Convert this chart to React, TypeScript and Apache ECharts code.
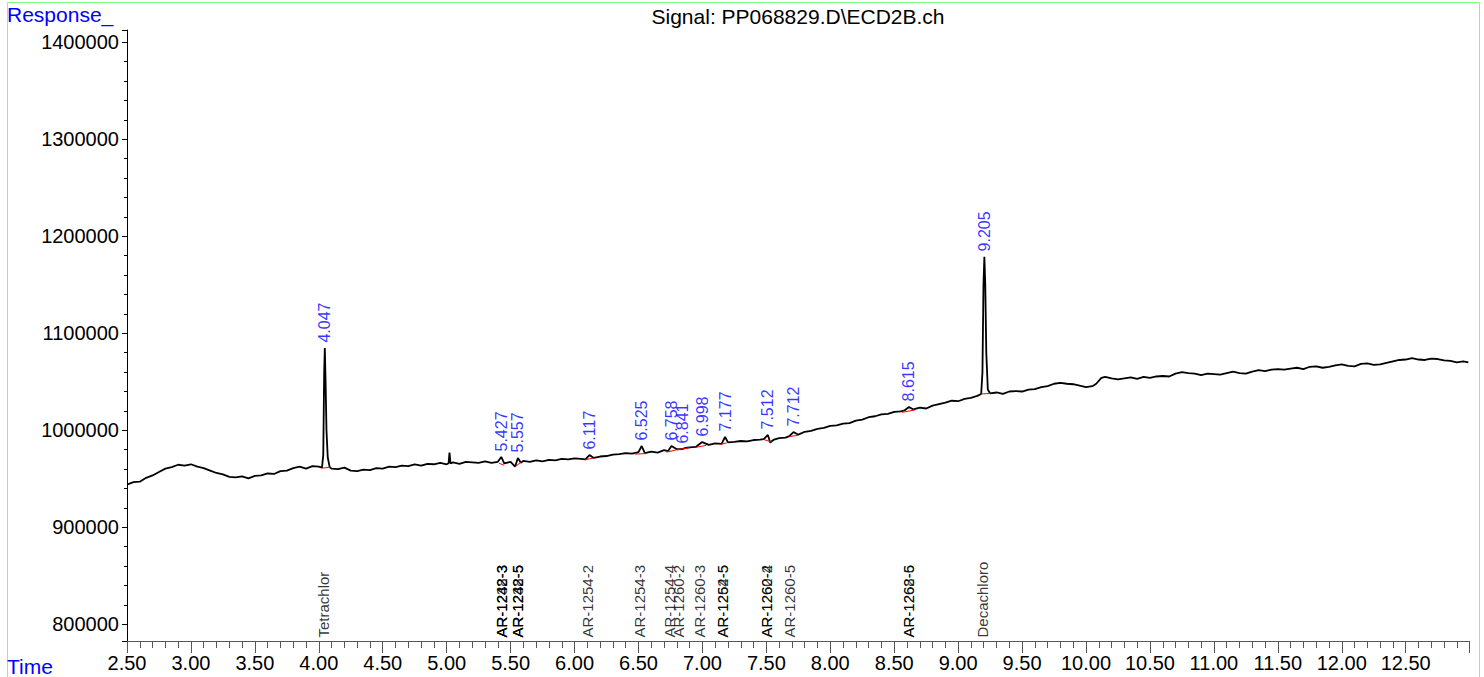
import React, { useEffect, useRef } from 'react';
import * as echarts from 'echarts';

const FONT = '"Liberation Sans", Arial, Helvetica, sans-serif';

// Chromatogram trace: [retention time (min), response]
const trace: [number, number][] = [
  [2.50, 944000], [2.55, 946500], [2.60, 947000], [2.65, 951000], [2.70, 953500],
  [2.75, 957000], [2.80, 960500], [2.85, 962000], [2.90, 964500], [2.95, 963500],
  [3.00, 965000], [3.05, 962500], [3.10, 961000], [3.15, 958500], [3.20, 956000],
  [3.25, 954500], [3.30, 952000], [3.35, 951500], [3.40, 952500], [3.45, 950500],
  [3.50, 953000], [3.55, 953500], [3.60, 955500], [3.65, 955000], [3.70, 958000],
  [3.75, 958500], [3.80, 961000], [3.85, 962500], [3.90, 960500], [3.95, 963000],
  [4.00, 962500], [4.025, 961500], [4.035, 975000], [4.042, 1060000], [4.047, 1084800],
  [4.053, 1050000], [4.060, 1000000], [4.070, 972000], [4.085, 962000], [4.10, 960500],
  [4.15, 960000], [4.20, 961500], [4.25, 958500], [4.30, 958000], [4.35, 959500],
  [4.40, 959000], [4.45, 961000], [4.50, 960500], [4.55, 962500], [4.60, 962000],
  [4.65, 963500], [4.70, 963000], [4.75, 965000], [4.80, 963500], [4.85, 965500],
  [4.90, 965000], [4.95, 966500], [5.00, 965000], [5.015, 966000], [5.022, 977000],
  [5.03, 966000], [5.05, 967000], [5.10, 965500], [5.15, 967500], [5.20, 967000],
  [5.25, 966500], [5.30, 968000], [5.35, 966500], [5.40, 967500], [5.427, 972500],
  [5.45, 966000], [5.50, 967500], [5.535, 962500], [5.557, 971500], [5.58, 966500],
  [5.60, 968500], [5.65, 967500], [5.70, 969000], [5.75, 968000], [5.80, 969500],
  [5.85, 969000], [5.90, 970500], [5.95, 970000], [6.00, 971000], [6.05, 970500],
  [6.085, 970000], [6.117, 974500], [6.15, 971500], [6.20, 973000], [6.25, 973500],
  [6.30, 975000], [6.35, 975500], [6.40, 976500], [6.45, 976000], [6.50, 977500],
  [6.525, 983800], [6.55, 976500], [6.60, 978000], [6.65, 977000], [6.70, 979500],
  [6.73, 978500], [6.758, 983800], [6.80, 980500], [6.841, 980700], [6.87, 982000],
  [6.90, 982500], [6.95, 983000], [6.998, 987900], [7.05, 985000], [7.10, 986500],
  [7.15, 986000], [7.177, 993100], [7.20, 987500], [7.25, 988000], [7.30, 989000],
  [7.35, 988500], [7.40, 990000], [7.45, 990500], [7.48, 991000], [7.512, 995200],
  [7.53, 987500], [7.56, 990500], [7.60, 992000], [7.65, 992500], [7.68, 994000],
  [7.712, 998200], [7.75, 995500], [7.80, 998500], [7.85, 999500], [7.90, 1001500],
  [7.95, 1002500], [8.00, 1004500], [8.05, 1005000], [8.10, 1007000], [8.15, 1007500],
  [8.20, 1010000], [8.25, 1011000], [8.30, 1013500], [8.35, 1014500], [8.40, 1016500],
  [8.45, 1017000], [8.50, 1019000], [8.55, 1019500], [8.58, 1020500], [8.615, 1024100],
  [8.65, 1021500], [8.70, 1023500], [8.75, 1022500], [8.80, 1025500], [8.85, 1027000],
  [8.90, 1028500], [8.95, 1030500], [9.00, 1030000], [9.05, 1032500], [9.10, 1033500],
  [9.15, 1035500], [9.18, 1037500], [9.19, 1060000], [9.198, 1150000], [9.205, 1178800],
  [9.212, 1150000], [9.22, 1080000], [9.232, 1042000], [9.25, 1038000], [9.30, 1039000],
  [9.35, 1037500], [9.40, 1040000], [9.45, 1040500], [9.50, 1040000], [9.55, 1042000],
  [9.60, 1042500], [9.65, 1044500], [9.70, 1045500], [9.75, 1048000], [9.80, 1049000],
  [9.85, 1048000], [9.90, 1047500], [9.95, 1046000], [10.00, 1044500], [10.05, 1045500],
  [10.08, 1048000], [10.12, 1054000], [10.15, 1055000], [10.20, 1053500], [10.25, 1052500],
  [10.30, 1053500], [10.35, 1054500], [10.40, 1053000], [10.45, 1055000], [10.50, 1054000],
  [10.55, 1055500], [10.60, 1056000], [10.65, 1055500], [10.70, 1058500], [10.75, 1060000],
  [10.80, 1059000], [10.85, 1058500], [10.90, 1057000], [10.95, 1058500], [11.00, 1058000],
  [11.05, 1057500], [11.10, 1059000], [11.15, 1060500], [11.20, 1059000], [11.25, 1058500],
  [11.30, 1060500], [11.35, 1062000], [11.40, 1061000], [11.45, 1062500], [11.50, 1063000],
  [11.55, 1062500], [11.60, 1063500], [11.65, 1064500], [11.70, 1063000], [11.75, 1065500],
  [11.80, 1066000], [11.85, 1064500], [11.90, 1065500], [11.95, 1067000], [12.00, 1068000],
  [12.05, 1066500], [12.10, 1066000], [12.15, 1068500], [12.20, 1069000], [12.25, 1067500],
  [12.30, 1068000], [12.35, 1069500], [12.40, 1071000], [12.45, 1072500], [12.50, 1073000],
  [12.55, 1074500], [12.60, 1073000], [12.65, 1072500], [12.70, 1074000], [12.75, 1073500],
  [12.80, 1072000], [12.85, 1071500], [12.90, 1070000], [12.95, 1071000], [12.99, 1070000],
];

// Integrated peaks: retention time and apex response
const peakRT = [4.047, 5.427, 5.557, 6.117, 6.525, 6.758, 6.841, 6.998, 7.177, 7.512, 7.712, 8.615, 9.205];
const peakHeight = [1084800, 972500, 971500, 974500, 983800, 983800, 980700, 987900, 993100, 995200, 998200, 1024100, 1178800];

// Red integration baselines: [t1, v1, t2, v2]
const baselineSegments: [number, number, number, number][] = [
  [4.025, 961000, 4.09, 962000],
  [5.41, 966000, 5.45, 964000],
  [5.535, 962500, 5.58, 967000],
  [6.08, 969500, 6.15, 971500],
  [6.47, 975500, 6.56, 976000],
  [6.72, 977500, 6.80, 980000],
  [6.80, 980000, 6.90, 982000],
  [6.95, 982500, 7.03, 984500],
  [7.14, 985500, 7.19, 987000],
  [7.48, 990500, 7.54, 988000],
  [7.68, 993500, 7.75, 995000],
  [8.56, 1018500, 8.66, 1021000],
  [9.18, 1037500, 9.25, 1038000],
];

// Compound names at expected retention times
const compoundRT = [4.04, 5.427, 5.427, 5.427, 5.557, 5.557, 5.557, 6.10, 6.51, 6.745, 6.81, 6.98, 7.16, 7.16, 7.50, 7.50, 7.68, 8.61, 8.61, 9.19];
const compoundName = [
  'Tetrachlor', 'AR-1232-3', 'AR-1242-3', 'AR-1248-3', 'AR-1232-5', 'AR-1242-5', 'AR-1248-5',
  'AR-1254-2', 'AR-1254-3', 'AR-1254-4', 'AR-1260-2', 'AR-1260-3', 'AR-1262-5', 'AR-1254-5',
  'AR-1260-4', 'AR-1262-2', 'AR-1260-5', 'AR-1268-5', 'AR-1262-6', 'Decachloro',
];

const X_MIN = 2.5;
const X_MAX = 12.995;
const Y_MIN = 782800;
const Y_MAX = 1412700;

export default function App() {
  const ref = useRef<HTMLDivElement>(null);
  useEffect(() => {
    if (!ref.current) return;
    const chart = echarts.init(ref.current, null, { renderer: 'svg' });
    const option: any = {
      animation: false,
      textStyle: { fontFamily: FONT },
      grid: { left: 127, right: 15, top: 30, bottom: 36, containLabel: false },
      xAxis: {
        type: 'value',
        min: X_MIN,
        max: X_MAX,
        interval: 0.5,
        axisLine: { onZero: false, lineStyle: { color: '#555', width: 1 } },
        axisTick: { show: true, length: 12, lineStyle: { color: '#555' } },
        minorTick: { show: true, splitNumber: 5, length: 7, lineStyle: { color: '#555' } },
        axisLabel: {
          formatter: (v: number) => v.toFixed(2),
          color: '#000', fontSize: 20, fontFamily: FONT, margin: 12,
          showMaxLabel: false, showMinLabel: true,
        },
        splitLine: { show: false },
        minorSplitLine: { show: false },
      },
      yAxis: {
        type: 'value',
        min: Y_MIN,
        max: Y_MAX,
        minInterval: 100000,
        maxInterval: 100000,
        axisLine: { show: true, onZero: false, lineStyle: { color: '#000', width: 1 } },
        axisTick: { show: true, length: 5, lineStyle: { color: '#000' } },
        minorTick: { show: true, splitNumber: 5, length: 3, lineStyle: { color: '#000' } },
        axisLabel: {
          formatter: (v: number) => String(Math.round(v)),
          color: '#000', fontSize: 20, fontFamily: FONT, margin: 8,
          showMinLabel: false, showMaxLabel: false,
        },
        splitLine: { show: false },
        minorSplitLine: { show: false },
      },
      graphic: [
        {
          type: 'rect', silent: true,
          shape: { x: 7.5, y: 2.5, width: 1472, height: 700 },
          style: { fill: 'none', stroke: '#80ff80', lineWidth: 1 },
        },
        {
          type: 'text', x: 7, y: 4,
          style: { text: 'Response_', fill: '#0000ff', fontSize: 21, fontFamily: FONT },
        },
        {
          type: 'text', x: 7, y: 656,
          style: { text: 'Time', fill: '#0000ff', fontSize: 21, fontFamily: FONT },
        },
        {
          type: 'text', x: 798, y: 6,
          style: { text: 'Signal: PP068829.D\\ECD2B.ch', fill: '#000', fontSize: 21, fontFamily: FONT, textAlign: 'center' },
        },
      ],
      series: [
        {
          type: 'line',
          data: trace,
          symbol: 'none',
          lineStyle: { color: '#000', width: 1.8 },
          z: 2,
        },
        {
          type: 'lines',
          coordinateSystem: 'cartesian2d',
          data: baselineSegments.map((s) => ({ coords: [[s[0], s[1]], [s[2], s[3]]] })),
          lineStyle: { color: '#ff0000', width: 1, opacity: 1 },
          z: 3,
        },
        {
          type: 'scatter',
          data: peakRT.map((t, i) => [t, peakHeight[i]]),
          symbolSize: 1,
          itemStyle: { color: 'rgba(0,0,0,0)' },
          clip: false,
          label: {
            show: true,
            position: 'top',
            distance: 5,
            rotate: 90,
            align: 'left',
            verticalAlign: 'middle',
            color: '#0000ff',
            fontSize: 16,
            fontFamily: FONT,
            formatter: (p: any) => p.value[0].toFixed(3),
          },
          labelLayout: { hideOverlap: false },
          z: 4,
        },
        {
          type: 'scatter',
          data: compoundRT.map((t, i) => [t, Y_MIN, compoundName[i]]),
          symbolSize: 1,
          itemStyle: { color: 'rgba(0,0,0,0)' },
          clip: false,
          label: {
            show: true,
            position: 'top',
            distance: 3,
            rotate: 90,
            align: 'left',
            verticalAlign: 'middle',
            color: '#000',
            fontSize: 15,
            fontFamily: FONT,
            formatter: (p: any) => p.value[2],
          },
          labelLayout: { hideOverlap: false },
          z: 4,
        },
      ],
    };
    chart.setOption(option);
    return () => chart.dispose();
  }, []);
  return (
    <div
      ref={ref}
      style={{ position: 'absolute', left: 0, top: 0, width: 1484, height: 677, background: '#fff' }}
    />
  );
}
